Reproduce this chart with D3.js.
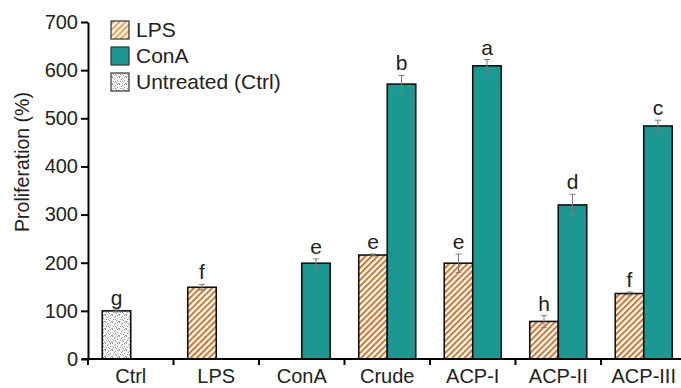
<!DOCTYPE html>
<html>
<head>
<meta charset="utf-8">
<script src="https://cdn.jsdelivr.net/npm/d3@7"></script>
<style>
  html, body { margin: 0; padding: 0; background: #fff; }
  svg { display: block; font-family: "Liberation Sans", Arial, Helvetica, sans-serif; }
</style>
</head>
<body>
<svg id="chart" width="681" height="388"></svg>
<script>
// ---- data ----
const categories = ["Ctrl", "LPS", "ConA", "Crude", "ACP-I", "ACP-II", "ACP-III"];
const ctrlValues  = [100, null, null, null, null, null, null];
const ctrlErrors  = [2, null, null, null, null, null, null];
const ctrlLetters = ["g", null, null, null, null, null, null];
const lpsValues   = [null, 149, null, 216, 199, 78, 136];
const lpsErrors   = [null, 6, null, 2, 19, 12, 3];
const lpsLetters  = [null, "f", null, "e", "e", "h", "f"];
const conaValues  = [null, null, 199, 571, 609, 320, 484];
const conaErrors  = [null, null, 9, 18, 13, 22, 12];
const conaLetters = [null, null, "e", "b", "a", "d", "c"];
const yTicks = [0, 100, 200, 300, 400, 500, 600, 700];
const legendLabels = ["LPS", "ConA", "Untreated (Ctrl)"];
const yTitle = "Proliferation (%)";

// ---- drawing ----
const svg = d3.select("#chart");
const teal = "#1c9893";
const orange = "#cf7832";

const defs = svg.append("defs");
function hatch(id, color) {
  const p = defs.append("pattern").attr("id", id).attr("patternUnits", "userSpaceOnUse")
    .attr("width", 4.3).attr("height", 10).attr("patternTransform", "rotate(45)");
  p.append("rect").attr("width", 4.3).attr("height", 10).attr("fill", "#fff");
  p.append("rect").attr("width", 2.1).attr("height", 10).attr("fill", color);
}
hatch("hatchBar", orange);
hatch("hatchLeg", "#f0a04e");
const st = defs.append("pattern").attr("id", "stipple").attr("patternUnits", "userSpaceOnUse")
  .attr("width", 7).attr("height", 7);
st.append("rect").attr("width", 7).attr("height", 7).attr("fill", "#f3f3f3");
[[0,0],[3,1],[5,3],[1,4],[4,5],[6,6],[2,2],[0,6],[5,0],[3,4]].forEach(([a,b]) =>
  st.append("rect").attr("x", a).attr("y", b).attr("width", 1).attr("height", 1).attr("fill", "#a0a0a0"));

const x = d3.scaleBand().domain(categories).range([88, 686.5]).padding(0);
const xSub = d3.scaleBand().domain(["LPS", "ConA"]).range([0, x.bandwidth()]).paddingInner(0).paddingOuter(0.5);
const y = d3.scaleLinear().domain([0, 700]).range([359, 22]);

const series = [
  {slot: "LPS", values: ctrlValues, errors: ctrlErrors, letters: ctrlLetters, fill: "url(#stipple)"},
  {slot: "LPS", values: lpsValues, errors: lpsErrors, letters: lpsLetters, fill: "url(#hatchBar)"},
  {slot: "ConA", values: conaValues, errors: conaErrors, letters: conaLetters, fill: teal}
];

const bw = xSub.bandwidth();
series.forEach(s => {
  categories.forEach((c, i) => {
    const v = s.values[i];
    if (v == null) return;
    const x0 = x(c) + xSub(s.slot);
    svg.append("rect").attr("x", x0).attr("y", y(v)).attr("width", bw)
      .attr("height", y(0) - y(v)).attr("fill", s.fill)
      .attr("stroke", "#111").attr("stroke-width", 1.6);
    const e = s.errors[i] || 0;
    const cx = x0 + bw / 2;
    const g = svg.append("g").attr("stroke", "#7a7a7a").attr("stroke-width", 1);
    g.append("line").attr("x1", cx).attr("x2", cx).attr("y1", y(v - e)).attr("y2", y(v + e));
    g.append("line").attr("x1", cx - 3).attr("x2", cx + 3).attr("y1", y(v + e)).attr("y2", y(v + e));
    g.append("line").attr("x1", cx - 3).attr("x2", cx + 3).attr("y1", y(v - e)).attr("y2", y(v - e));
    if (s.letters[i]) {
      svg.append("text").attr("x", cx).attr("y", y(v + e) - 5).attr("text-anchor", "middle")
        .attr("font-size", 21).attr("fill", "#222").text(s.letters[i]);
    }
  });
});

// y axis
const yAxis = svg.append("g").attr("transform", "translate(88,0)")
  .call(d3.axisLeft(y).tickValues(yTicks).tickSize(7).tickSizeOuter(0).tickPadding(3));
yAxis.select(".domain").attr("stroke", "#000").attr("stroke-width", 2);
yAxis.selectAll(".tick line").attr("stroke", "#000").attr("stroke-width", 2);
yAxis.selectAll(".tick text").attr("font-size", 20).attr("fill", "#222")
  .attr("font-family", "Liberation Sans, Arial, sans-serif");

// x axis
svg.append("line").attr("x1", 82).attr("x2", 681).attr("y1", y(0)).attr("y2", y(0))
  .attr("stroke", "#000").attr("stroke-width", 2);
categories.forEach(c => {
  svg.append("line").attr("x1", x(c)).attr("x2", x(c)).attr("y1", y(0)).attr("y2", y(0) + 6)
    .attr("stroke", "#000").attr("stroke-width", 2);
  svg.append("text").attr("x", x(c) + x.bandwidth() / 2).attr("y", 383)
    .attr("text-anchor", "middle").attr("font-size", 20).attr("fill", "#222").text(c);
});

// y title
svg.append("text").attr("transform", "translate(29,162) rotate(-90)")
  .attr("text-anchor", "middle").attr("font-size", 19.5).attr("fill", "#222").text(yTitle);

// legend
const legFills = ["url(#hatchLeg)", teal, "url(#stipple)"];
legendLabels.forEach((l, i) => {
  const ly = 21 + i * 26;
  svg.append("rect").attr("x", 111).attr("y", ly).attr("width", 18).attr("height", 18)
    .attr("fill", legFills[i]).attr("stroke", "#333").attr("stroke-width", 1.2);
  svg.append("text").attr("x", 136).attr("y", ly + 16).attr("font-size", 21)
    .attr("fill", "#222").text(l);
});
</script>
</body>
</html>
